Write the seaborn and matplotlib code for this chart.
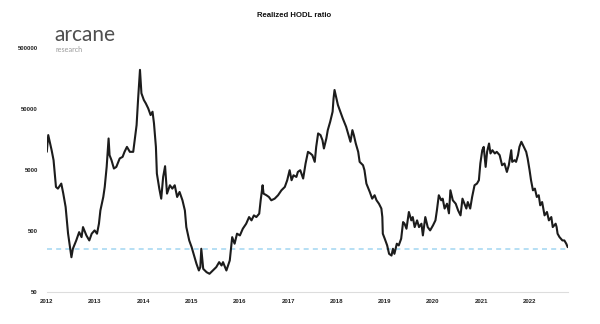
import numpy as np
import pandas as pd
import matplotlib
matplotlib.use("Agg")
import matplotlib.pyplot as plt
import seaborn as sns

years = [
    2012.00, 2012.03, 2012.10, 2012.14, 2012.19, 2012.23, 2012.30, 2012.34, 2012.39, 2012.44,
    2012.48, 2012.51, 2012.54, 2012.61, 2012.67, 2012.72, 2012.75, 2012.82, 2012.88, 2012.93,
    2012.99, 2013.04, 2013.08, 2013.11, 2013.17, 2013.20, 2013.24, 2013.28, 2013.30, 2013.34,
    2013.39, 2013.44, 2013.51, 2013.57, 2013.61, 2013.66, 2013.72, 2013.79, 2013.82, 2013.86,
    2013.89, 2013.93, 2013.96, 2014.01, 2014.05, 2014.10, 2014.15, 2014.19, 2014.22, 2014.26,
    2014.28, 2014.33, 2014.37, 2014.41, 2014.45, 2014.49, 2014.55, 2014.60, 2014.65, 2014.70,
    2014.75, 2014.81, 2014.86, 2014.89, 2014.95, 2015.00, 2015.04, 2015.10, 2015.15, 2015.18,
    2015.20, 2015.24, 2015.31, 2015.37, 2015.44, 2015.51, 2015.57, 2015.62, 2015.65, 2015.72,
    2015.79, 2015.84, 2015.89, 2015.94, 2016.00, 2016.06, 2016.13, 2016.19, 2016.24, 2016.29,
    2016.34, 2016.40, 2016.43, 2016.47, 2016.49, 2016.55, 2016.60, 2016.65, 2016.72, 2016.79,
    2016.86, 2016.93, 2016.98, 2017.03, 2017.07, 2017.11, 2017.17, 2017.20, 2017.25, 2017.31,
    2017.36, 2017.41, 2017.46, 2017.50, 2017.55, 2017.58, 2017.62, 2017.67, 2017.71, 2017.74,
    2017.79, 2017.82, 2017.87, 2017.92, 2017.94, 2017.96, 2018.00, 2018.03, 2018.08, 2018.13,
    2018.17, 2018.20, 2018.24, 2018.29, 2018.33, 2018.36, 2018.40, 2018.45, 2018.48, 2018.55,
    2018.58, 2018.62, 2018.69, 2018.74, 2018.79, 2018.83, 2018.88, 2018.93, 2018.95, 2018.96,
    2019.00, 2019.05, 2019.09, 2019.14, 2019.17, 2019.20, 2019.25, 2019.29, 2019.34, 2019.38,
    2019.41, 2019.45, 2019.50, 2019.55, 2019.58, 2019.62, 2019.67, 2019.71, 2019.76, 2019.79,
    2019.84, 2019.89, 2019.94, 2020.00, 2020.05, 2020.08, 2020.12, 2020.17, 2020.20, 2020.24,
    2020.29, 2020.33, 2020.36, 2020.41, 2020.47, 2020.52, 2020.57, 2020.61, 2020.65, 2020.69,
    2020.72, 2020.77, 2020.81, 2020.86, 2020.91, 2020.95, 2020.98, 2021.02, 2021.05, 2021.09,
    2021.12, 2021.16, 2021.19, 2021.23, 2021.28, 2021.32, 2021.38, 2021.43, 2021.48, 2021.53,
    2021.57, 2021.62, 2021.64, 2021.69, 2021.72, 2021.76, 2021.79, 2021.83, 2021.88, 2021.93,
    2021.96, 2022.00, 2022.03, 2022.07, 2022.11, 2022.15, 2022.19, 2022.22, 2022.26, 2022.31,
    2022.36, 2022.40, 2022.45, 2022.48, 2022.54, 2022.56, 2022.58, 2022.62, 2022.68, 2022.72,
    2022.76, 2022.79,
]

hodl_ratio = [
    9780, 18400, 10400, 7140, 2600, 2440, 2950, 2050, 1220, 450,
    268, 183, 252, 345, 472, 391, 571, 417, 345, 445,
    504, 445, 649, 1070, 1780, 2600, 5540, 16200, 8630, 7140,
    5210, 5540, 7620, 8090, 9780, 11800, 9780, 9780, 15200, 26900,
    69200, 216000, 89300, 69200, 61100, 50600, 39200, 44500, 28700, 11800,
    4310, 2440, 1670, 3790, 5690, 2020, 2770, 2440, 2770, 1780,
    2150, 1570, 1070, 571, 345, 268, 208, 143, 111, 126,
    252, 118, 104, 98, 111, 126, 152, 134, 152, 111,
    162, 391, 305, 445, 417, 537, 649, 834, 736, 889,
    834, 948, 1570, 2770, 2020, 1900, 1780, 1570, 1670, 1900,
    2290, 2600, 3350, 4890, 3350, 4040, 3790, 4580, 4890, 3570,
    6300, 9780, 9200, 8630, 6700, 11800, 19600, 18400, 15200, 11100,
    16200, 22200, 30500, 44500, 73800, 101000, 73800, 57300, 44500, 34600,
    28700, 25200, 19600, 14300, 22200, 18400, 13400, 9780, 6700, 5900,
    4890, 2950, 2150, 1670, 1900, 1570, 1380, 1150, 834, 445,
    368, 286, 208, 195, 252, 208, 305, 286, 368, 690,
    649, 537, 1010, 736, 834, 571, 736, 571, 649, 417,
    834, 571, 504, 610, 736, 1070, 1900, 1570, 1670, 1150,
    1380, 960, 2290, 1570, 1380, 1070, 889, 1670, 1380, 1150,
    1470, 1150, 1780, 2770, 2950, 3350, 6300, 10400, 11800, 5540,
    9780, 13400, 9200, 10400, 9200, 9780, 8630, 5900, 6300, 4580,
    5900, 10400, 6700, 7140, 6700, 8630, 11800, 14300, 11800, 9780,
    7620, 4890, 3350, 2290, 2440, 1780, 1900, 1300, 1470, 889,
    1010, 736, 834, 571, 649, 571, 445, 391, 345, 345,
    305, 268,
]

threshold = 250
year_ticks = list(range(2012, 2023))
year_labels = [str(y) for y in year_ticks]
value_ticks = [50, 500, 5000, 50000, 500000]
value_labels = ["50", "500", "5000", "50000", "500000"]
title = "Realized HODL ratio"

df = pd.DataFrame({"year": years, "ratio": hodl_ratio})

sns.set_theme(style="white")
plt.rcParams["font.family"] = ["Liberation Sans", "DejaVu Sans"]

fig = plt.figure(figsize=(6, 3.24), dpi=100)
ax = fig.add_axes([0.078, 0.100, 0.869, 0.753])

sns.lineplot(data=df, x="year", y="ratio", ax=ax, color="#1c1c1c", linewidth=1.5)
ax.axhline(threshold, color="#a9d9f2", linewidth=1.2, linestyle=(0, (3, 2.5)), zorder=1)

ax.set_yscale("log")
ax.set_ylim(50, 500000)
ax.set_xlim(2012.0, 2022.8)
ax.set_yticks(value_ticks)
ax.set_yticklabels(value_labels)
ax.minorticks_off()
ax.set_xticks(year_ticks)
ax.set_xticklabels(year_labels)
ax.set_xlabel("")
ax.set_ylabel("")

for lab in ax.get_xticklabels() + ax.get_yticklabels():
    lab.set_fontsize(4.3)
    lab.set_fontweight("bold")
    lab.set_color("#222222")

ax.tick_params(axis="y", length=0, pad=6.5)
ax.tick_params(axis="x", length=2, width=0.5, color="#dddddd", direction="in", pad=5)

for side in ["left", "right", "top"]:
    ax.spines[side].set_visible(False)
ax.spines["bottom"].set_color("#dddddd")
ax.spines["bottom"].set_linewidth(0.8)

fig.text(0.49, 0.953, title, ha="center", va="center", fontsize=5.6, fontweight="bold", color="#111111")
fig.text(0.091, 0.872, "arcane", ha="left", va="baseline", fontsize=15, color="#4f4f4f",
         family=["Lato", "DejaVu Sans"], fontweight="normal")
fig.text(0.093, 0.848, "research", ha="left", va="center", fontsize=5.2, color="#9a9a9a",
         family=["Lato", "DejaVu Sans"])

fig.savefig("out.png", dpi=100, facecolor="white")
